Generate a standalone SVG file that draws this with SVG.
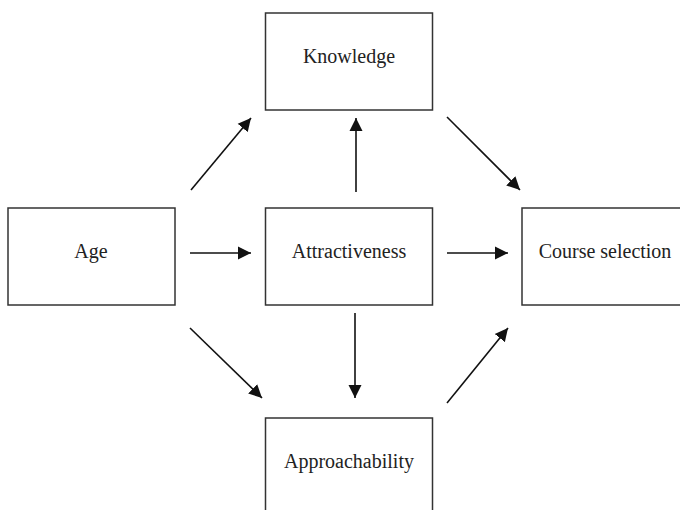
<svg xmlns="http://www.w3.org/2000/svg" width="680" height="510" viewBox="0 0 680 510">
<style>
.box{fill:#fff;stroke:#333;stroke-width:1.5}
.lbl{font-family:"Liberation Serif","Times New Roman",serif;font-size:20px;fill:#222;text-anchor:middle}
.conn line{stroke:#111;stroke-width:1.6;marker-end:url(#ah)}
</style>
<defs>
<marker id="ah" markerUnits="userSpaceOnUse" markerWidth="14" markerHeight="14" refX="13" refY="7" orient="auto">
<path d="M0,0.5 L13,7 L0,13.5 z" fill="#111"/>
</marker>
</defs>
<rect width="680" height="510" fill="#fff"/>
<g id="knowledge"><rect class="box" x="265.5" y="13" width="167" height="97"/><text class="lbl" x="349" y="63">Knowledge</text></g>
<g id="age"><rect class="box" x="8" y="208" width="167" height="97"/><text class="lbl" x="91" y="258">Age</text></g>
<g id="attractiveness"><rect class="box" x="265.5" y="208" width="167" height="97"/><text class="lbl" x="349" y="258">Attractiveness</text></g>
<g id="course"><rect class="box" x="522" y="208" width="167" height="97"/><text class="lbl" x="605" y="258">Course selection</text></g>
<g id="approachability"><rect class="box" x="265.5" y="418" width="167" height="100"/><text class="lbl" x="349" y="468">Approachability</text></g>
<g id="connectors" class="conn">
<line x1="191" y1="190" x2="251" y2="118"/>
<line x1="356" y1="192" x2="356" y2="118"/>
<line x1="447" y1="117" x2="520" y2="190"/>
<line x1="190" y1="253" x2="251" y2="253"/>
<line x1="447" y1="253" x2="508" y2="253"/>
<line x1="190" y1="328" x2="262" y2="398"/>
<line x1="355" y1="313" x2="355" y2="398"/>
<line x1="447" y1="403" x2="508" y2="328"/>
</g>
</svg>
